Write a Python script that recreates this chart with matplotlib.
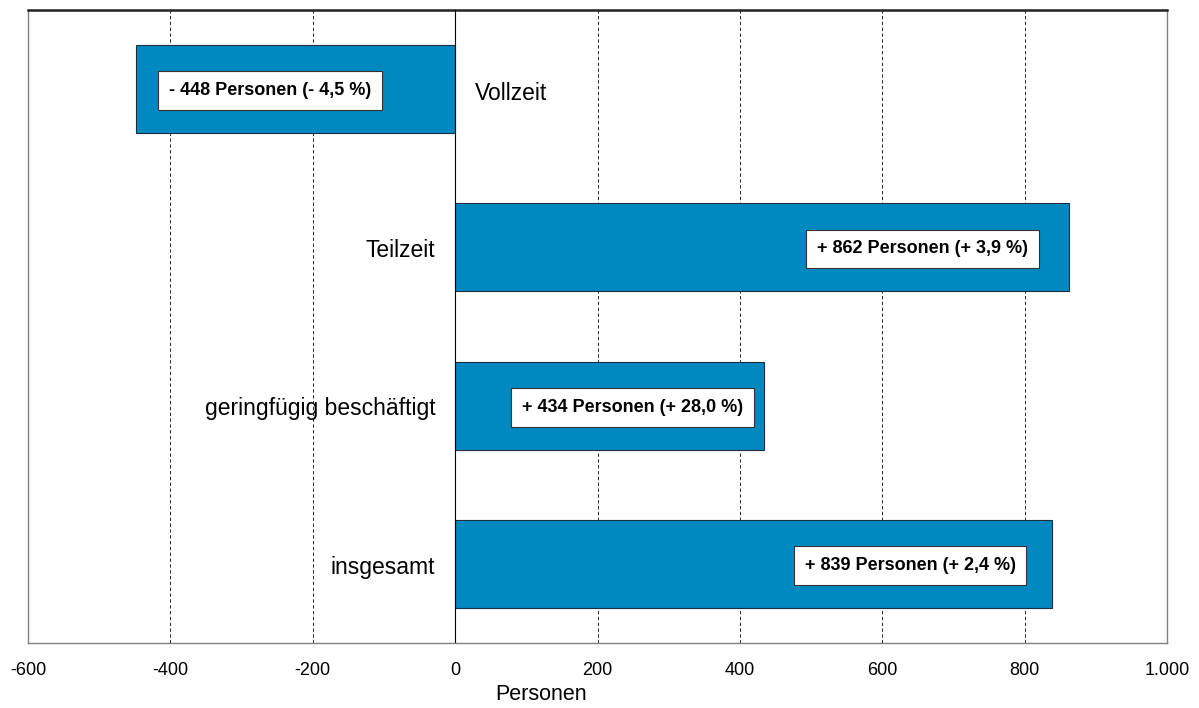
import matplotlib.pyplot as plt

# Daten
kategorien = ['Vollzeit', 'Teilzeit', 'geringfügig beschäftigt', 'insgesamt']
veraenderung = [-448, 862, 434, 839]
etiketten = ['- 448 Personen (- 4,5 %)', '+ 862 Personen (+ 3,9 %)',
             '+ 434 Personen (+ 28,0 %)', '+ 839 Personen (+ 2,4 %)']
etikett_x = [-260, 657, 249, 639]
x_ticks = [-600, -400, -200, 0, 200, 400, 600, 800, 1000]
x_ticklabels = ['-600', '-400', '-200', '0', '200', '400', '600', '800', '1.000']

plt.rcParams['font.family'] = ['Liberation Sans', 'DejaVu Sans']

fig = plt.figure(figsize=(11.99, 7.08), dpi=100)
ax = fig.add_axes([28 / 1199, 1 - 643 / 708, (1167 - 28) / 1199, (643 - 10) / 708])

pos = list(range(len(kategorien)))
ax.barh(pos, veraenderung, height=0.555, color='#0088c0', edgecolor='#1a3040',
        linewidth=0.8, zorder=2)

for i, (v, name) in enumerate(zip(veraenderung, kategorien)):
    if v < 0:
        ax.text(28, i + 0.03, name, ha='left', va='center', fontsize=16.5, zorder=4)
    else:
        ax.text(-28, i + 0.02, name, ha='right', va='center', fontsize=16.5, zorder=4)
    ax.text(etikett_x[i], i + 0.01, etiketten[i], ha='center', va='center', fontsize=13,
            fontweight='bold', zorder=5,
            bbox=dict(boxstyle='square,pad=0.6', facecolor='white',
                      edgecolor='#333333', linewidth=0.8))

ax.set_xlim(-600, 1000)
ax.set_ylim(3.5, -0.5)
ax.set_yticks([])
ax.set_xticks(x_ticks)
ax.set_xticklabels(x_ticklabels, fontsize=13)
ax.tick_params(axis='x', length=0, pad=14)

for t in x_ticks[1:-1]:
    if t == 0:
        ax.axvline(0, color='black', linewidth=0.8, zorder=3)
    else:
        ax.axvline(t, color='black', linewidth=0.6, linestyle=(0, (4, 3)), zorder=1)

for s in ['left', 'right', 'bottom']:
    ax.spines[s].set_color('#808080')
    ax.spines[s].set_linewidth(1.0)
ax.spines['top'].set_color('#222222')
ax.spines['top'].set_linewidth(1.8)

ax.set_xlabel('Personen', fontsize=15.5)
ax.xaxis.set_label_coords((541 - 28) / 1139, -0.065)

fig.savefig('out.png', dpi=100)
